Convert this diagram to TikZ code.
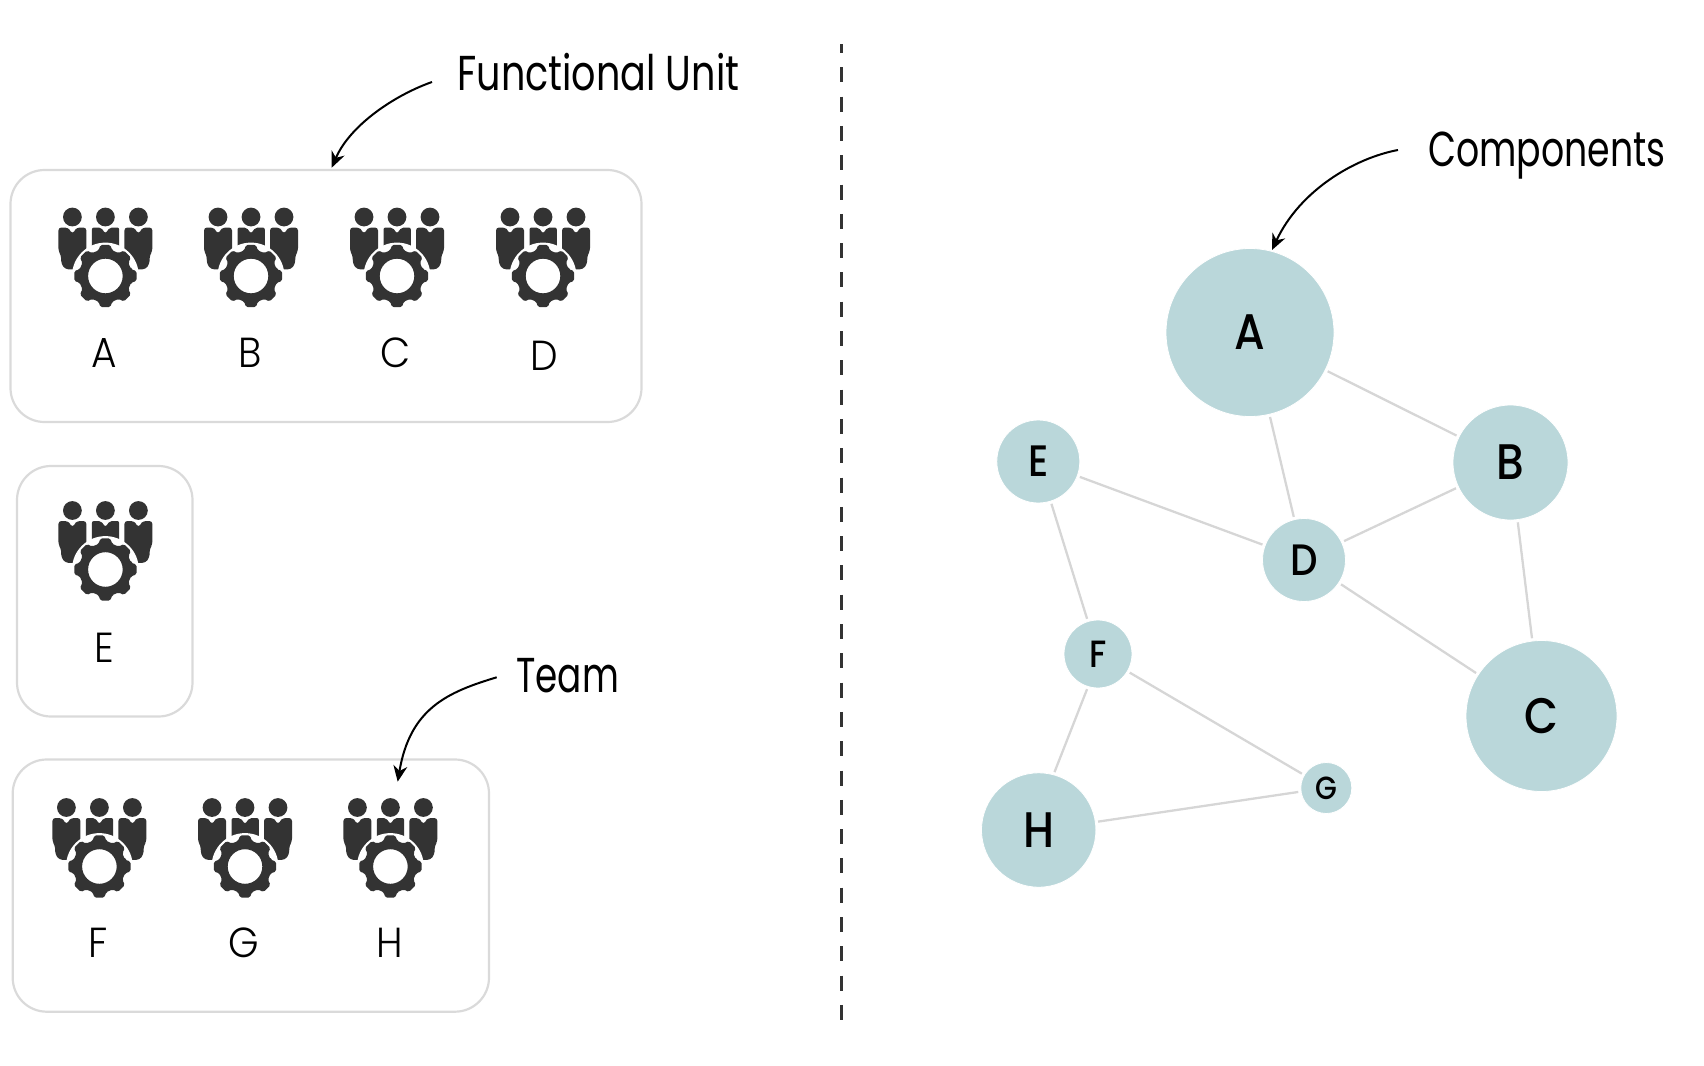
\documentclass[tikz,border=0pt]{standalone}
\usepackage{fontspec}
\usetikzlibrary{arrows.meta}
\setmainfont{Poppins Light}
\newfontfamily\unitcapfont[FakeStretch=0.778]{Poppins}
\newfontfamily\compcapfont[FakeStretch=0.74]{Poppins}
\newfontfamily\teamcapfont[FakeStretch=0.73]{Poppins}
\newfontfamily\unitfont[FakeStretch=0.93]{Poppins Light}
\newfontfamily\heavyfont[FakeStretch=0.88]{Poppins Medium}
\definecolor{iconink}{HTML}{333333}
\definecolor{framegrey}{HTML}{DADADA}
\definecolor{edgegrey}{HTML}{D6D6D6}
\definecolor{tealfill}{HTML}{BAD7DA}
\tikzset{
  unitframe/.style={draw=framegrey,line width=1.1pt,rounded corners=17pt},
  unitname/.style={anchor=base,inner sep=0pt,font=\unitfont\fontsize{21}{21}\selectfont},
  caption/.style={anchor=base west,inner sep=0pt,font=#1\fontsize{24.5}{24.5}\selectfont},
  pointer/.style={draw=black,line width=1pt,-{Stealth[length=8pt,width=7pt]}},
  divider/.style={draw=iconink,line width=1.5pt,dash pattern=on 7.5pt off 7.15pt,dash phase=3pt},
  compnode/.style={circle,fill=tealfill,draw=white,line width=.4pt,inner sep=0pt,
    minimum size=#1},
  link/.style={draw=edgegrey,line width=1.15pt,shorten <=1.2pt,shorten >=1.2pt},
  crew/.pic={
    % three figures behind a gear
    \foreach \hx in {-33,0,33}
      \fill[iconink] (\hx,-59) circle (9.4);
    \foreach \sx in {1,-1}{
      \begin{scope}[xscale=\sx]
        \fill[iconink,rounded corners=1.5pt]
          (-47,-25) -- (-47,-48.5) -- (-37.5,-48.5) -- (-35,-45) -- (-33,-42)
          -- (-31,-45) -- (-28.5,-48.5) -- (-19,-48.5) -- (-19,-12) -- (-26,-6.7)
          -- (-40,-6.7) -- (-44,-12) -- (-44.5,-21) -- cycle;
      \end{scope}
    }
    \fill[iconink,rounded corners=1pt]
      (-13.5,-27) -- (-13.5,-48.5) -- (-4.5,-48.5) -- (0,-42.5) -- (4.5,-48.5)
      -- (13.8,-48.5) -- (13.8,-27) -- cycle;
    % white collar around the gear, then the gear itself
    \fill[white] (0,0) circle (33.4);
    \fill[iconink,even odd rule,rounded corners=.8pt] (-15:26.5)
      \foreach \a in {0,45,...,315}{
        -- (\a-15:26.5) -- (\a-9:31.5) -- (\a+9:31.5) -- (\a+15:26.5)
      } -- cycle
      (0,0) circle[radius=17.3];
  }
}
\begin{document}
\begin{tikzpicture}[x=.5pt,y=-.5pt]
\useasboundingbox (0,0) rectangle (1704,1066);

% functional unit frames
\path[unitframe] (10.5,170) rectangle (641.5,422);
\path[unitframe] (17,466) rectangle (192.5,716.5);
\path[unitframe] (12.7,759.5) rectangle (489,1011.7);

% team icons
\pic at (105.4,276) {crew};
\pic at (251,276) {crew};
\pic at (397,276) {crew};
\pic at (543,276) {crew};
\pic at (105.4,569.5) {crew};
\pic at (99.4,866.5) {crew};
\pic at (245,866.5) {crew};
\pic at (390.4,866.5) {crew};

% team names
\node[unitname] (tA) at (104.5,367) {A};
\node[unitname] (tB) at (250.5,367) {B};
\node[unitname] (tC) at (396,367) {C};
\node[unitname] (tD) at (544,370) {D};
\node[unitname] (tE) at (104,662) {E};
\node[unitname] (tF) at (98.5,957.5) {F};
\node[unitname] (tG) at (244,957.5) {G};
\node[unitname] (tH) at (390,957.5) {H};

% captions and their pointers
\node[caption=\unitcapfont] (capUnit) at (457,90) {Functional Unit};
\node[caption=\compcapfont] (capComp) at (1428,166) {Components};
\node[caption=\teamcapfont] (capTeam) at (516,692) {Team};

\coordinate (fuStart) at (432,82);
\coordinate (fuEnd) at (331.7,167.7);
\coordinate (teamStart) at (496.7,677.3);
\coordinate (teamEnd) at (397.7,781.7);
\coordinate (compStart) at (1398,150);
\coordinate (compEnd) at (1272,250);
\draw[pointer] (fuStart) .. controls (395,95) and (350,125) .. (fuEnd);
\draw[pointer] (teamStart) .. controls (448,692) and (410,708) .. (teamEnd);
\draw[pointer] (compStart) .. controls (1355,158) and (1300,190) .. (compEnd);

% divider between the two views
\coordinate (divTop) at (841.5,44);
\coordinate (divBottom) at (841.5,1023);
\draw[divider] (divTop) -- (divBottom);

% component graph
\node[compnode=84pt,font=\heavyfont\fontsize{25}{25}\selectfont] (A) at (1250,332.5) {A};
\node[compnode=57.5pt,font=\heavyfont\fontsize{25}{25}\selectfont] (B) at (1510.5,462.5) {B};
\node[compnode=75.5pt,font=\heavyfont\fontsize{25}{25}\selectfont] (C) at (1541.5,716) {C};
\node[compnode=41.5pt,font=\heavyfont\fontsize{22}{22}\selectfont] (D) at (1304,560) {D};
\node[compnode=41.5pt,font=\heavyfont\fontsize{22}{22}\selectfont] (E) at (1038.3,461.5) {E};
\node[compnode=34pt,font=\heavyfont\fontsize{19}{19}\selectfont] (F) at (1098,654) {F};
\node[compnode=25.5pt,font=\heavyfont\fontsize{16}{16}\selectfont] (G) at (1326.3,788) {G};
\node[compnode=57.2pt,font=\heavyfont\fontsize{25}{25}\selectfont] (H) at (1038.7,830) {H};

\draw[link] (A) -- (B);
\draw[link] (A) -- (D);
\draw[link] (B) -- (D);
\draw[link] (B) -- (C);
\draw[link] (C) -- (D);
\draw[link] (D) -- (E);
\draw[link] (E) -- (F);
\draw[link] (F) -- (G);
\draw[link] (H.75) -- (F.253);
\draw[link] (G.188) -- (H.8);
\end{tikzpicture}
\end{document}
